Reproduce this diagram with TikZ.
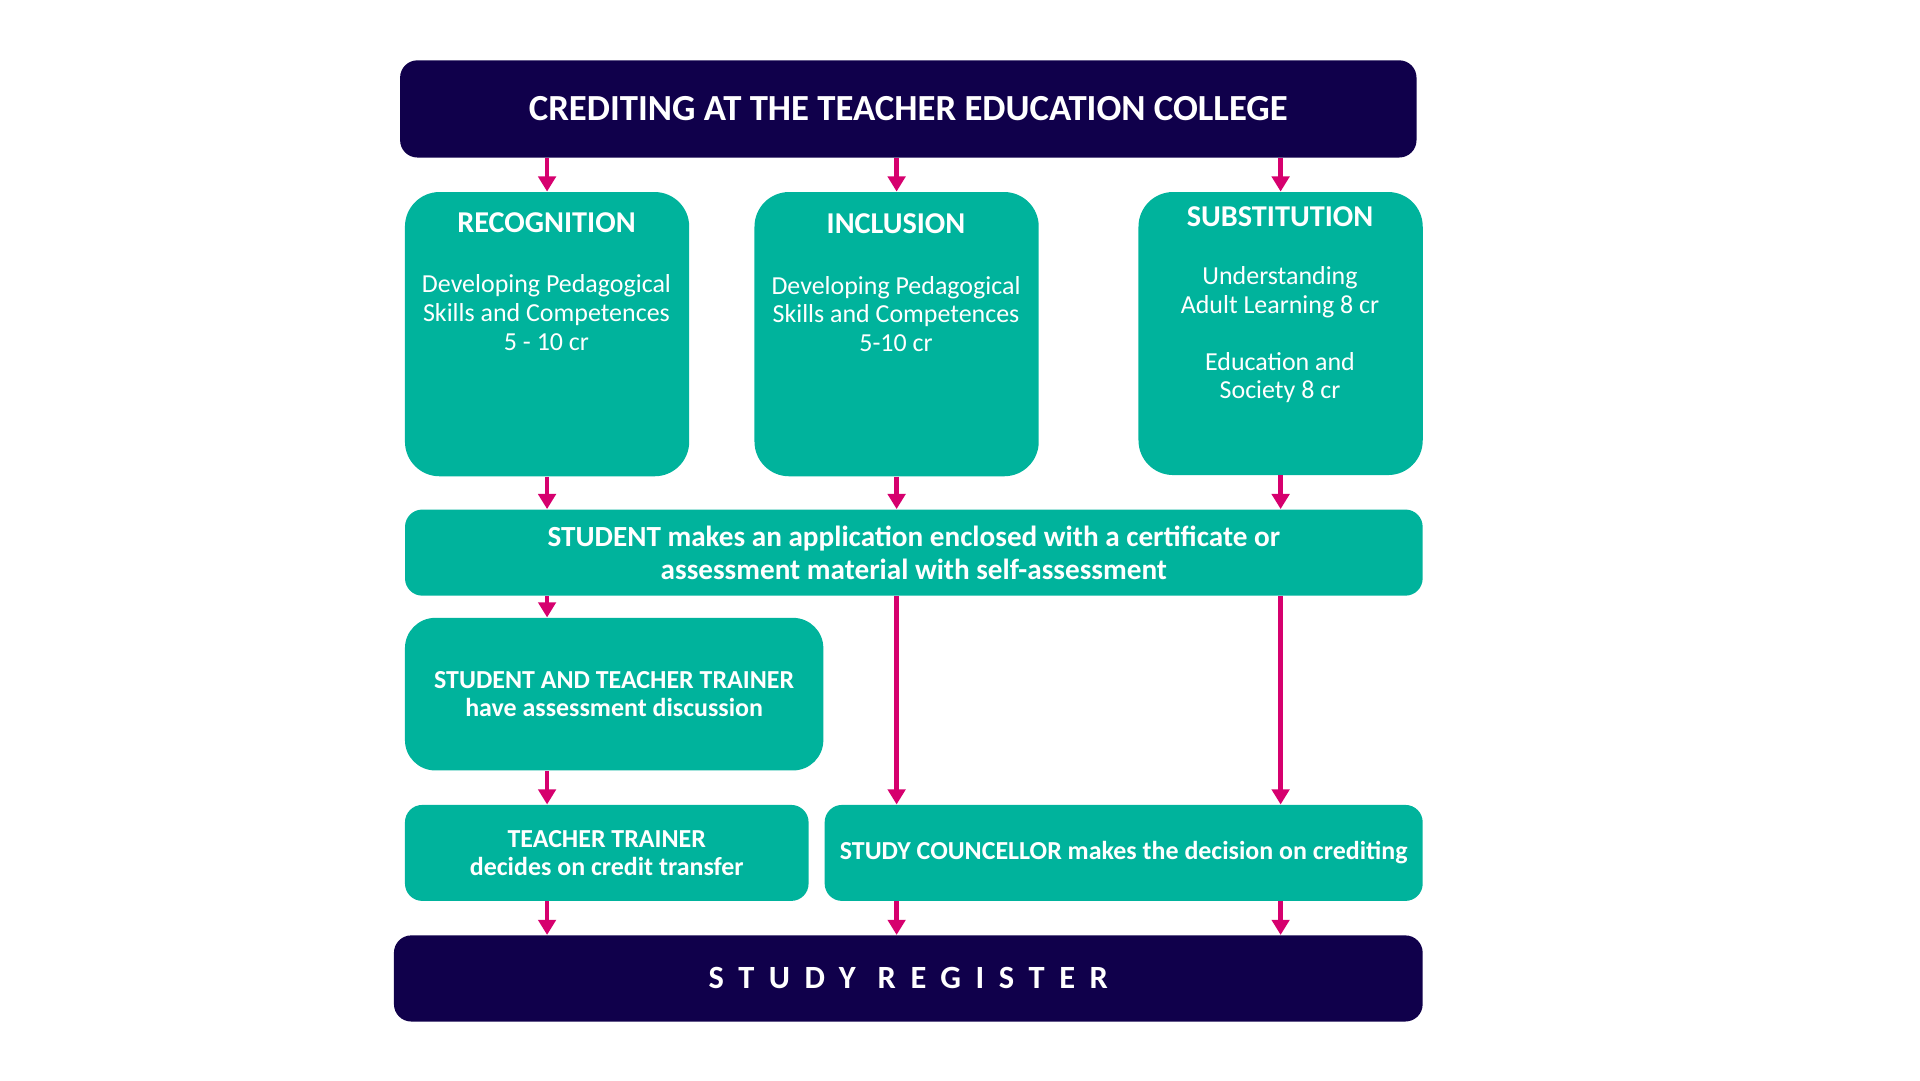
\documentclass[tikz,border=0pt]{standalone}
\usepackage{fontspec}
\setmainfont{Carlito}
\usetikzlibrary{arrows.meta}
\definecolor{navy}{HTML}{10004B}
\definecolor{teal}{HTML}{00B39C}
\definecolor{magenta}{HTML}{D6006E}
\tikzset{
  dark/.style={fill=navy, rounded corners=8pt, text=white, font=\bfseries},
  tbox/.style={fill=teal, rounded corners=16pt},
  sbox/.style={fill=teal, rounded corners=8pt, text=white, align=center},
  head/.style={text=white, font=\fontsize{14}{16}\selectfont\bfseries},
  body/.style={text=white, align=center, font=\fontsize{12}{13.2}\selectfont},
  arr/.style={draw=magenta, line width=2.2pt, -{Triangle[length=7pt,width=8pt]}}
}
\begin{document}
\begin{tikzpicture}[x=0.02cm, y=-0.02cm]
\useasboundingbox (0,0) rectangle (1560,878);

% header and footer
\node[dark, minimum width=16.52cm, minimum height=1.58cm, font=\fontsize{17}{20}\selectfont\bfseries] (title) at (738,88.5) {CREDITING AT THE TEACHER EDUCATION COLLEGE};
\node[dark, minimum width=16.72cm, minimum height=1.4cm, font=\fontsize{15}{18}\selectfont\bfseries\addfontfeature{LetterSpace=45}] (reg) at (738,795) {STUDY REGISTER};

% three ways
\node[tbox, minimum width=4.62cm, minimum height=4.62cm] (rec) at (444.5,271.5) {};
\node[tbox, minimum width=4.62cm, minimum height=4.62cm] (inc) at (728.5,271.5) {};
\node[tbox, minimum width=4.62cm, minimum height=4.6cm] (sub) at (1040.5,271) {};

\node[head] (rech) at (444,181) {RECOGNITION};
\node[body] (recb) at (444,254) {Developing Pedagogical\\Skills and Competences\\5 - 10 cr};
\node[head] (inch) at (728,182) {INCLUSION};
\node[body] (incb) at (728,255) {Developing Pedagogical\\Skills and Competences\\5-10 cr};
\node[head] (subh) at (1040,176) {SUBSTITUTION};
\node[body] (subb) at (1040,272) {Understanding\\Adult Learning 8 cr\\[13.2pt]Education and\\Society 8 cr};

% steps
\node[sbox, minimum width=16.54cm, minimum height=1.4cm, font=\fontsize{13.5}{15.5}\selectfont\bfseries] (app) at (742.5,449) {STUDENT makes an application enclosed with a certificate or\\assessment material with self-assessment};
\node[sbox, rounded corners=14pt, minimum width=6.8cm, minimum height=2.48cm, font=\fontsize{12}{13}\selectfont\bfseries] (disc) at (499,564) {STUDENT AND TEACHER TRAINER\\have assessment discussion};
\node[sbox, minimum width=6.56cm, minimum height=1.56cm, font=\fontsize{12}{13}\selectfont\bfseries] (tt) at (493,693) {TEACHER TRAINER\\decides on credit transfer};
\node[sbox, minimum width=9.72cm, minimum height=1.56cm, font=\fontsize{12}{13}\selectfont\bfseries] (sc) at (913,693) {STUDY COUNCELLOR makes the decision on crediting};

% arrows
\foreach \b in {rec,inc,sub}{
  \draw[arr] (title.south -| \b.north) -- (\b.north);
  \draw[arr] (\b.south) -- (app.north -| \b.south);
}
\draw[arr] (app.south -| rec.south) -- (disc.north -| rec.south);
\draw[arr] (disc.south -| rec.south) -- (tt.north -| rec.south);
\draw[arr] (app.south -| inc.south) -- (sc.north -| inc.south);
\draw[arr] (app.south -| sub.south) -- (sc.north -| sub.south);
\draw[arr] (tt.south -| rec.south) -- (reg.north -| rec.south);
\draw[arr] (sc.south -| inc.south) -- (reg.north -| inc.south);
\draw[arr] (sc.south -| sub.south) -- (reg.north -| sub.south);
\end{tikzpicture}
\end{document}
